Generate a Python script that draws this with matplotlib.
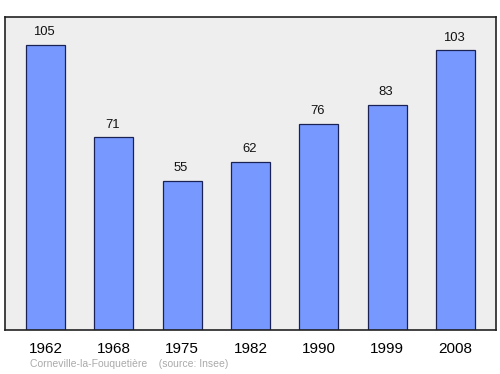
import matplotlib
matplotlib.use("Agg")
import matplotlib.pyplot as plt

years = ["1962", "1968", "1975", "1982", "1990", "1999", "2008"]
population = [105, 71, 55, 62, 76, 83, 103]

plt.rcParams['font.family'] = ['Liberation Sans', 'DejaVu Sans']
fig = plt.figure(figsize=(5.0, 3.74), dpi=100)
ax = fig.add_axes([5/500, 1-330/374, 491/500, 313/374])
ax.set_facecolor('#eeeeee')
x = list(range(len(years)))
ax.bar(x, population, width=0.571, color='#7799ff', edgecolor='#1a2255', linewidth=0.9, zorder=2)
for xi, v in zip(x, population):
    ax.text(xi - 0.02, v + 4.6, str(v), ha='center', va='center', fontsize=9.4, color='#111111')
ax.set_xlim(-0.593, 6.593)
ax.set_ylim(0, 115.3)
ax.set_yticks([])
ax.set_xticks(x)
ax.set_xticklabels(years, fontsize=11)
ax.tick_params(axis='x', length=0, pad=8.5)
for s in ax.spines.values():
    s.set_linewidth(1.2)
    s.set_color('#222222')
fig.text(30/500, 1-364/374, "Corneville-la-Fouquetière    (source: Insee)", fontsize=7.5, color='#aaaaaa', va='center', ha='left')
fig.savefig("out.png", dpi=100)
